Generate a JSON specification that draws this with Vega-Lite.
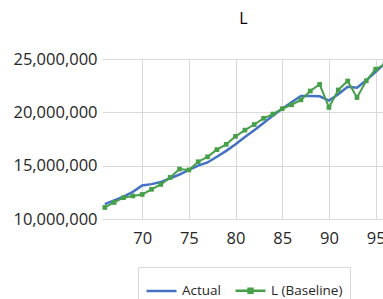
{
  "$schema": "https://vega.github.io/schema/vega-lite/v6.json",
  "width": 283,
  "height": 160,
  "padding": {"left": 12, "top": 11, "right": 0, "bottom": 0},
  "title": {"text": "L", "fontSize": 16, "font": "Open Sans", "fontWeight": "normal", "color": "#000000", "offset": 24},
  "config": {
    "view": {"stroke": null},
    "axis": {"domain": false, "ticks": false, "gridColor": "#d9d9d9", "gridWidth": 1, "labelFont": "Open Sans", "labelFontSize": 16.5, "labelColor": "#262626"}
  },
  "data": {"values": [
    {"year": 66, "series": "Actual", "value": 11390000},
    {"year": 67, "series": "Actual", "value": 11750000},
    {"year": 68, "series": "Actual", "value": 12100000},
    {"year": 69, "series": "Actual", "value": 12550000},
    {"year": 70, "series": "Actual", "value": 13150000},
    {"year": 71, "series": "Actual", "value": 13270000},
    {"year": 72, "series": "Actual", "value": 13460000},
    {"year": 73, "series": "Actual", "value": 13820000},
    {"year": 74, "series": "Actual", "value": 14170000},
    {"year": 75, "series": "Actual", "value": 14600000},
    {"year": 76, "series": "Actual", "value": 15000000},
    {"year": 77, "series": "Actual", "value": 15300000},
    {"year": 78, "series": "Actual", "value": 15830000},
    {"year": 79, "series": "Actual", "value": 16390000},
    {"year": 80, "series": "Actual", "value": 17000000},
    {"year": 81, "series": "Actual", "value": 17690000},
    {"year": 82, "series": "Actual", "value": 18330000},
    {"year": 83, "series": "Actual", "value": 19000000},
    {"year": 84, "series": "Actual", "value": 19700000},
    {"year": 85, "series": "Actual", "value": 20340000},
    {"year": 86, "series": "Actual", "value": 20950000},
    {"year": 87, "series": "Actual", "value": 21540000},
    {"year": 88, "series": "Actual", "value": 21540000},
    {"year": 89, "series": "Actual", "value": 21500000},
    {"year": 90, "series": "Actual", "value": 21100000},
    {"year": 91, "series": "Actual", "value": 21700000},
    {"year": 92, "series": "Actual", "value": 22400000},
    {"year": 93, "series": "Actual", "value": 22300000},
    {"year": 94, "series": "Actual", "value": 23000000},
    {"year": 95, "series": "Actual", "value": 23800000},
    {"year": 96, "series": "Actual", "value": 24600000},
    {"year": 66, "series": "L (Baseline)", "value": 11080000},
    {"year": 67, "series": "L (Baseline)", "value": 11550000},
    {"year": 68, "series": "L (Baseline)", "value": 12000000},
    {"year": 69, "series": "L (Baseline)", "value": 12160000},
    {"year": 70, "series": "L (Baseline)", "value": 12300000},
    {"year": 71, "series": "L (Baseline)", "value": 12780000},
    {"year": 72, "series": "L (Baseline)", "value": 13240000},
    {"year": 73, "series": "L (Baseline)", "value": 13900000},
    {"year": 74, "series": "L (Baseline)", "value": 14680000},
    {"year": 75, "series": "L (Baseline)", "value": 14600000},
    {"year": 76, "series": "L (Baseline)", "value": 15370000},
    {"year": 77, "series": "L (Baseline)", "value": 15830000},
    {"year": 78, "series": "L (Baseline)", "value": 16500000},
    {"year": 79, "series": "L (Baseline)", "value": 17000000},
    {"year": 80, "series": "L (Baseline)", "value": 17750000},
    {"year": 81, "series": "L (Baseline)", "value": 18330000},
    {"year": 82, "series": "L (Baseline)", "value": 18860000},
    {"year": 83, "series": "L (Baseline)", "value": 19440000},
    {"year": 84, "series": "L (Baseline)", "value": 19840000},
    {"year": 85, "series": "L (Baseline)", "value": 20340000},
    {"year": 86, "series": "L (Baseline)", "value": 20710000},
    {"year": 87, "series": "L (Baseline)", "value": 21170000},
    {"year": 88, "series": "L (Baseline)", "value": 22000000},
    {"year": 89, "series": "L (Baseline)", "value": 22620000},
    {"year": 90, "series": "L (Baseline)", "value": 20460000},
    {"year": 91, "series": "L (Baseline)", "value": 22100000},
    {"year": 92, "series": "L (Baseline)", "value": 22940000},
    {"year": 93, "series": "L (Baseline)", "value": 21390000},
    {"year": 94, "series": "L (Baseline)", "value": 22960000},
    {"year": 95, "series": "L (Baseline)", "value": 24050000},
    {"year": 96, "series": "L (Baseline)", "value": 24500000}
  ]},
  "encoding": {
    "x": {"field": "year", "type": "quantitative", "scale": {"domain": [65.7, 96], "nice": false, "zero": false},
      "axis": {"title": null, "values": [70, 75, 80, 85, 90, 95], "format": "d", "labelPadding": 11}},
    "y": {"field": "value", "type": "quantitative", "scale": {"domain": [10000000, 25000000], "nice": false, "zero": false},
      "axis": {"title": null, "values": [10000000, 15000000, 20000000, 25000000], "labelExpr": "format(datum.value, ',')", "labelPadding": 5}}
  },
  "layer": [
    {
      "mark": {"type": "line", "clip": true},
      "encoding": {
        "color": {"field": "series", "type": "nominal",
          "scale": {"domain": ["Actual", "L (Baseline)"], "range": ["#4472C4", "#46A04A"]},
          "legend": {"title": null, "orient": "none", "legendX": 36, "legendY": 208, "direction": "horizontal",
            "strokeColor": "#d9d9d9", "padding": 7, "labelFont": "Open Sans", "labelFontSize": 13.5, "labelColor": "#262626",
            "symbolSize": 900, "symbolStrokeWidth": 2.5, "columnPadding": 8, "labelOffset": 4,
            "encode": {"symbols": {"update": {
              "shape": {"signal": "datum.value === 'Actual' ? 'M-1,0H1' : 'M-1,0H1M-0.13,-0.13H0.13V0.13H-0.13Z'"},
              "fill": {"signal": "datum.value === 'Actual' ? 'transparent' : '#46A04A'"}
            }}}}
        },
        "strokeWidth": {"condition": {"test": "datum.series === 'Actual'", "value": 2.5}, "value": 2}
      }
    },
    {
      "transform": [{"filter": "datum.series === 'L (Baseline)'"}],
      "mark": {"type": "square", "color": "#46A04A", "size": 22, "opacity": 1, "clip": true}
    }
  ]
}
